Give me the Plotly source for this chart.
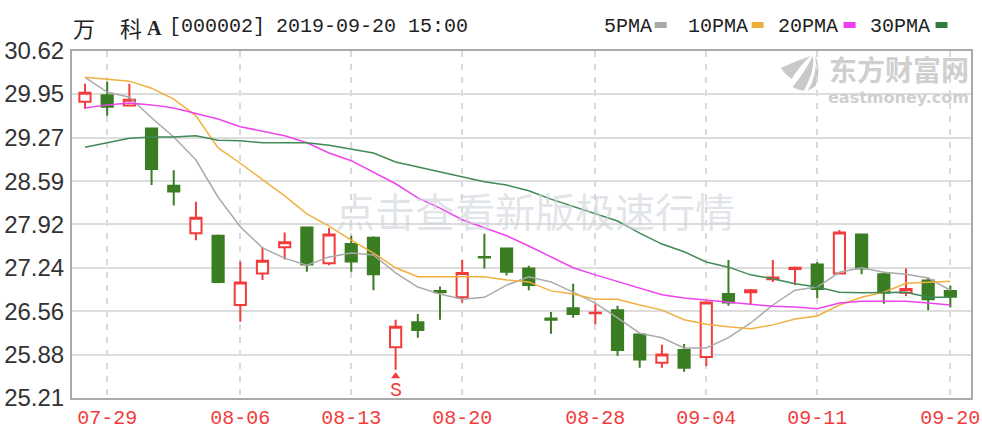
import plotly.graph_objects as go

dates = ["07-26","07-29","07-30","07-31","08-01","08-02","08-05","08-06","08-07","08-08",
         "08-09","08-12","08-13","08-14","08-15","08-16","08-19","08-20","08-21","08-22",
         "08-23","08-26","08-27","08-28","08-29","08-30","09-02","09-03","09-04","09-05",
         "09-06","09-09","09-10","09-11","09-12","09-16","09-17","09-18","09-19","09-20"]
opens = [29.83,29.93,29.77,29.41,28.52,27.78,27.74,26.66,27.15,27.56,
         27.87,27.31,27.61,27.71,26.00,26.39,26.88,26.78,27.41,27.54,
         27.23,26.45,26.61,26.53,26.58,26.20,25.76,25.96,25.85,26.83,
         26.86,27.06,27.22,27.29,27.15,27.76,27.14,26.85,27.04,26.88]
highs = [30.11,30.14,30.11,29.41,28.76,28.27,27.76,27.34,27.56,27.79,
         27.88,27.86,27.74,27.73,26.43,26.52,26.95,27.36,27.77,27.55,
         27.27,26.55,26.99,26.67,26.65,26.22,26.04,26.05,26.72,27.36,
         26.91,27.36,27.26,27.33,27.83,27.77,27.18,27.23,27.09,26.96]
lows = [29.72,29.61,29.77,28.53,28.21,27.67,27.00,26.40,27.05,27.37,
        27.18,27.28,27.18,26.89,25.65,26.15,26.43,26.70,27.23,27.12,
        26.89,26.21,26.46,26.36,25.87,25.68,25.68,25.62,25.71,26.65,
        26.66,27.02,26.97,26.77,27.15,27.14,26.68,26.80,26.58,26.62]
closes = [29.97,29.75,29.86,28.78,28.43,28.02,27.02,27.01,27.35,27.64,
          27.29,27.76,27.34,27.14,26.32,26.27,26.86,27.16,27.40,27.18,
          26.97,26.43,26.52,26.54,25.96,25.81,25.89,25.68,26.70,26.70,
          26.89,27.09,27.24,26.91,27.79,27.23,26.85,26.91,26.75,26.79]
ma5 = [30.21,29.98,29.90,29.58,29.28,28.92,28.34,27.88,27.55,27.39,
       27.28,27.41,27.47,27.44,27.16,26.94,26.83,26.75,26.78,26.97,
       27.10,27.02,26.86,26.69,26.46,26.22,26.15,25.99,25.99,26.15,
       26.38,26.66,26.89,26.94,27.17,27.24,27.17,27.14,27.08,26.89]
ma10 = [30.21,30.18,30.15,30.04,29.87,29.61,29.11,28.87,28.62,28.36,
        28.08,27.89,27.67,27.47,27.24,27.10,27.10,27.10,27.10,27.05,
        27.02,26.88,26.83,26.75,26.75,26.66,26.58,26.43,26.36,26.32,
        26.29,26.35,26.44,26.49,26.66,26.78,26.86,27.00,27.02,27.03]
ma20 = [29.73,29.78,29.81,29.78,29.73,29.64,29.56,29.44,29.37,29.30,
        29.19,29.03,28.91,28.73,28.55,28.33,28.17,27.99,27.86,27.74,
        27.58,27.41,27.24,27.13,27.03,26.93,26.82,26.77,26.74,26.71,
        26.68,26.64,26.63,26.60,26.69,26.72,26.72,26.72,26.69,26.66]
ma30 = [29.12,29.19,29.26,29.28,29.28,29.30,29.23,29.22,29.19,29.19,
        29.19,29.15,29.09,29.03,28.89,28.81,28.73,28.66,28.58,28.53,
        28.44,28.31,28.20,28.09,27.97,27.78,27.61,27.49,27.33,27.25,
        27.13,27.07,26.99,26.94,26.86,26.85,26.85,26.86,26.78,26.78]
y_ticks = [25.21,25.88,26.56,27.24,27.92,28.59,29.27,29.95,30.62]
x_ticks = ["07-29","08-06","08-13","08-20","08-28","09-04","09-11","09-20"]
ma_names = ["5PMA","10PMA","20PMA","30PMA"]
signal_date = "08-15"
signal_arrow = 25.55
signal_letter = 25.33

RED, GREEN = "#f23c3c", "#3a7d22"
MA_COLORS = ["#aaaaaa", "#f0b040", "#ee44ee", "#3f8a55"]
SWATCH = ["#a8a8a8", "#eeae3c", "#ee3cee", "#327a3e"]
MONO = "Liberation Mono"
L, R, T, B = 72, 971.5, 51, 398


def px(x):
    return (x - L) / (R - L)


def py(y):
    return (B - y) / (B - T)


fig = go.Figure()
fig.add_trace(go.Candlestick(
    x=dates, open=opens, high=highs, low=lows, close=closes, whiskerwidth=0,
    increasing=dict(line=dict(color=RED, width=2), fillcolor="white"),
    decreasing=dict(line=dict(color=GREEN, width=2), fillcolor=GREEN),
    showlegend=False))
for name, vals, col in zip(ma_names, [ma5, ma10, ma20, ma30], MA_COLORS):
    fig.add_trace(go.Scatter(x=dates, y=vals, mode="lines", name=name, showlegend=False,
                             line=dict(color=col, width=1.5)))
fig.add_trace(go.Scatter(x=[signal_date], y=[signal_arrow], mode="markers", showlegend=False,
                         marker=dict(symbol="triangle-up", size=8, color=RED, line_width=0)))


def label(x, y, text, size=20, color="#222222", family=MONO, anchor="left", **kw):
    fig.add_annotation(xref="paper", yref="paper", x=px(x), y=py(y), text=text, showarrow=False,
                       xanchor=anchor, yanchor="middle", borderpad=0,
                       font=dict(size=size, color=color, family=family), **kw)


label(72, 27, "万", size=22, family="Noto Sans CJK SC")
label(119, 27, "科", size=22, family="Noto Sans CJK SC")
label(146, 28, "<b>A</b>", size=20, family="Liberation Serif")
label(168, 27, "[000002]")
label(275, 27, "2019-09-20 15:00")

for name, x0, sw, col in zip(ma_names, [603, 687, 777, 869], [655, 752, 844, 936], SWATCH):
    label(x0, 27, name, size=20)
    fig.add_shape(type="rect", xref="paper", yref="paper", x0=px(sw), x1=px(sw + 12),
                  y0=py(28), y1=py(22), fillcolor=col, line_width=0)

# watermarks
label(535, 210, "点击查看新版极速行情", size=40, color="rgba(205,212,218,0.6)",
      family="Noto Sans CJK SC", anchor="center")
label(899, 69, "<b>东方财富网</b>", size=28, color="#cfcfcf", family="Noto Sans CJK SC", anchor="center")
label(899, 97, "<b>eastmoney.com</b>", size=16, color="#cfcfcf", family="DejaVu Sans", anchor="center")
for path in [
    "M 781 68 Q 796 61 811 56 Q 800 66 792 79 Q 786 75 781 68 Z",
    "M 793 87 Q 806 71 813 56 Q 816 70 804 91 Q 798 90 793 87 Z",
    "M 808 91 Q 818 75 816 56 Q 822 70 816 86 Z",
]:
    parts = path.split()
    out = []
    i = 0
    while i < len(parts):
        if parts[i] in "MQZ":
            out.append(parts[i])
            i += 1
        else:
            out.append(f"{px(float(parts[i])):.5f},{py(float(parts[i + 1])):.5f}")
            i += 2
    fig.add_shape(type="path", xref="paper", yref="paper", path=" ".join(out),
                  fillcolor="#c9c9c9", line_width=0, layer="below")

fig.add_annotation(x=signal_date, y=signal_letter, text="S", showarrow=False, borderpad=0,
                   yanchor="middle", font=dict(size=20, color=RED, family=MONO))

fig.update_layout(
    width=982, height=432, autosize=False, showlegend=False,
    margin=dict(l=L, r=982 - R, t=T, b=432 - B, pad=0, autoexpand=False),
    paper_bgcolor="white", plot_bgcolor="white", boxgap=0.28,
    xaxis=dict(type="category", categoryorder="array", categoryarray=dates,
               range=[-0.585, 39.93], rangeslider=dict(visible=False), automargin=False,
               tickmode="array", tickvals=x_ticks, ticktext=x_ticks, ticks="",
               tickfont=dict(size=20, color=RED, family=MONO),
               showgrid=True, gridcolor="#d9d9d9", gridwidth=1.5, griddash="6px,7px",
               showline=True, mirror=True, linecolor="#aaaaaa", linewidth=2, zeroline=False),
    yaxis=dict(range=[25.21, 30.62], tickmode="array", tickvals=y_ticks, automargin=False,
               ticktext=[f"{v:.2f}" for v in y_ticks], ticks="", ticklabelstandoff=1,
               tickfont=dict(size=24, color="#333333", family="Liberation Sans"),
               showgrid=True, gridcolor="#dddddd", gridwidth=1.5,
               showline=True, mirror=True, linecolor="#aaaaaa", linewidth=2, zeroline=False),
)
fig.write_html("out.html", config={"displayModeBar": False},
               post_script="document.body.style.margin='0';document.body.style.overflow='hidden';")
